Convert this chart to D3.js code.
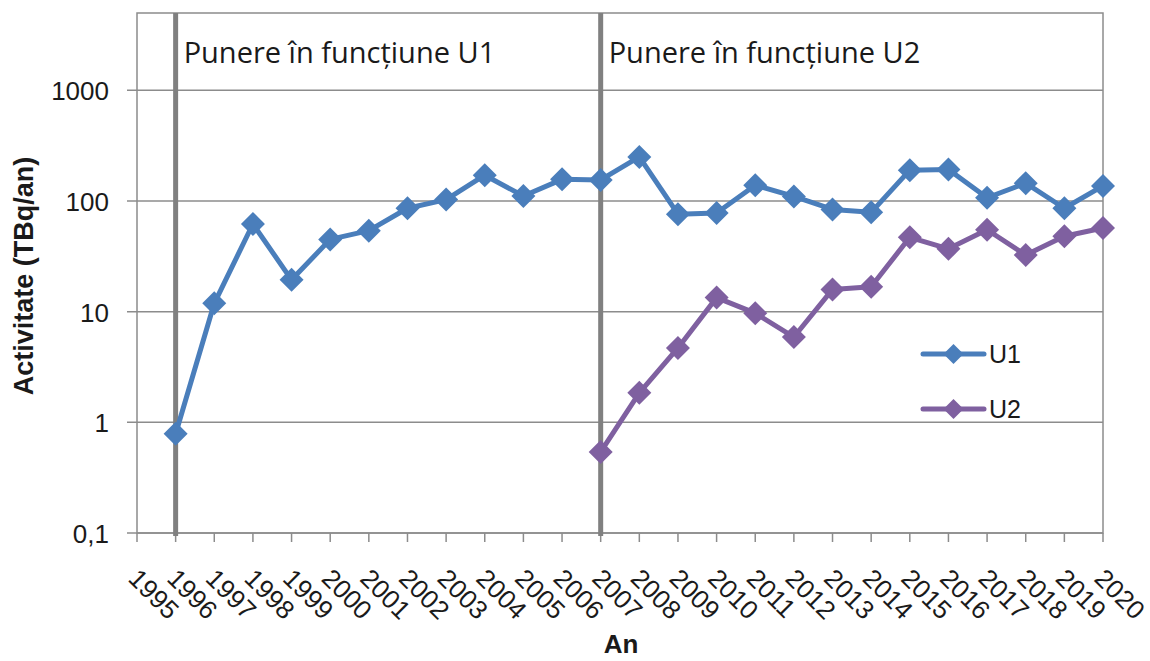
<!DOCTYPE html>
<html lang="ro">
<head>
<meta charset="UTF-8">
<script src="https://cdnjs.cloudflare.com/ajax/libs/d3/7.8.5/d3.min.js"></script>
<title>Activitate U1 / U2</title>
<style>
  body { margin: 0; background: #fff; }
  svg { display: block; }
  text { font-family: "Liberation Sans", Arial, sans-serif; fill: #1a1a1a; }
  .note { font-family: "Open Sans", "Liberation Sans", sans-serif; }
</style>
</head>
<body>
<svg id="chart" width="1150" height="661"></svg>
<script>
// categories (x axis)
var years = ["1995","1996","1997","1998","1999","2000","2001","2002","2003","2004","2005","2006","2007",
             "2008","2009","2010","2011","2012","2013","2014","2015","2016","2017","2018","2019","2020"];

// U1 series
var u1Years = ["1996","1997","1998","1999","2000","2001","2002","2003","2004","2005","2006","2007",
               "2008","2009","2010","2011","2012","2013","2014","2015","2016","2017","2018","2019","2020"];
var u1Values = [0.79, 11.9, 62, 19.4, 45, 54, 86, 103, 171, 111, 157, 155,
                250, 76, 78, 139, 110, 84, 79, 190, 193, 107, 145, 86, 137];

// U2 series
var u2Years = ["2007","2008","2009","2010","2011","2012","2013","2014","2015","2016","2017","2018","2019","2020"];
var u2Values = [0.54, 1.85, 4.7, 13.4, 9.7, 5.9, 15.9, 16.8, 47, 37, 55, 32.5, 48, 57];

// y ticks
var yTicks = [0.1, 1, 10, 100, 1000];
var yTickLabels = ["0,1", "1", "10", "100", "1000"];

// commissioning markers
var markYears = ["1996", "2007"];
var markLabels = ["Punere în funcțiune U1", "Punere în funcțiune U2"];

var seriesNames = ["U1", "U2"];
var colors = ["#4a7ebb", "#7f60a0"];

var pLeft = 137, pRight = 1103, pTop = 13, pBottom = 533;

var svg = d3.select("#chart");

var x = d3.scalePoint().domain(years).range([pLeft, pRight]);
var y = d3.scaleLog().domain([0.1, 5000]).range([pBottom, pTop]);

// gridlines
svg.append("g")
  .selectAll("line")
  .data(yTicks)
  .enter()
  .append("line")
    .attr("x1", pLeft - 10)
    .attr("x2", pRight)
    .attr("y1", d => y(d))
    .attr("y2", d => y(d))
    .style("stroke", "#8c8c8c")
    .style("stroke-width", 1.5);

// plot border
svg.append("rect")
  .attr("x", pLeft).attr("y", pTop)
  .attr("width", pRight - pLeft).attr("height", pBottom - pTop)
  .style("fill", "none")
  .style("stroke", "#8c8c8c")
  .style("stroke-width", 1.5);

// x axis ticks
svg.append("g")
  .selectAll("line")
  .data(years)
  .enter()
  .append("line")
    .attr("x1", d => x(d)).attr("x2", d => x(d))
    .attr("y1", pBottom).attr("y2", pBottom + 9)
    .style("stroke", "#8c8c8c")
    .style("stroke-width", 1.5);

// y tick labels
svg.append("g")
  .selectAll("text")
  .data(yTicks)
  .enter()
  .append("text")
    .attr("x", 109)
    .attr("y", d => y(d) + 10)
    .attr("text-anchor", "end")
    .style("font-size", "26px")
    .text((d, i) => yTickLabels[i]);

// x tick labels (rotated)
svg.append("g")
  .selectAll("text")
  .data(years)
  .enter()
  .append("text")
    .attr("transform", d => "translate(" + (x(d) - 10) + ",580) rotate(45)")
    .attr("text-anchor", "start")
    .style("font-size", "26px")
    .text(d => d);

// commissioning lines and labels
svg.append("g")
  .selectAll("line")
  .data(markYears)
  .enter()
  .append("line")
    .attr("x1", d => x(d)).attr("x2", d => x(d))
    .attr("y1", pTop).attr("y2", pBottom + 3)
    .style("stroke", "#808080")
    .style("stroke-width", 5);

svg.append("g")
  .selectAll("text")
  .data(markYears)
  .enter()
  .append("text")
    .attr("class", "note")
    .attr("x", d => x(d) + 8)
    .attr("y", 63)
    .style("font-size", "29px")
    .text((d, i) => markLabels[i]);

// diamond marker path
function diamond(r) {
  return "M0," + (-r) + "L" + r + ",0L0," + r + "L" + (-r) + ",0Z";
}

var line = d3.line().x(d => x(d[0])).y(d => y(d[1]));

var series = [
  d3.zip(u1Years, u1Values),
  d3.zip(u2Years, u2Values)
];

series.forEach(function(s, i) {
  var g = svg.append("g");
  g.append("path")
    .datum(s)
    .attr("d", line)
    .style("fill", "none")
    .style("stroke", colors[i])
    .style("stroke-width", 5)
    .style("stroke-linejoin", "round");
  g.selectAll("path.mk")
    .data(s)
    .enter()
    .append("path")
      .attr("class", "mk")
      .attr("d", diamond(12))
      .attr("transform", d => "translate(" + x(d[0]) + "," + y(d[1]) + ")")
      .style("fill", colors[i]);
});

// legend
var legend = svg.append("g")
  .selectAll("g")
  .data(seriesNames)
  .enter()
  .append("g")
    .attr("transform", (d, i) => "translate(923," + (354 + i * 55) + ")");

legend.append("line")
  .attr("x1", 0).attr("x2", 61)
  .attr("y1", 0).attr("y2", 0)
  .style("stroke", (d, i) => colors[i])
  .style("stroke-width", 5)
  .style("stroke-linecap", "round");

legend.append("path")
  .attr("d", diamond(10))
  .attr("transform", "translate(30.5,0)")
  .style("fill", (d, i) => colors[i]);

legend.append("text")
  .attr("x", 66)
  .attr("y", 9)
  .style("font-size", "25px")
  .text(d => d);

// axis titles
svg.append("text")
  .attr("transform", "translate(33,276) rotate(-90)")
  .attr("text-anchor", "middle")
  .style("font-size", "27px")
  .style("font-weight", "bold")
  .text("Activitate (TBq/an)");

svg.append("text")
  .attr("x", 621)
  .attr("y", 653)
  .attr("text-anchor", "middle")
  .style("font-size", "26px")
  .style("font-weight", "bold")
  .text("An");
</script>
</body>
</html>
